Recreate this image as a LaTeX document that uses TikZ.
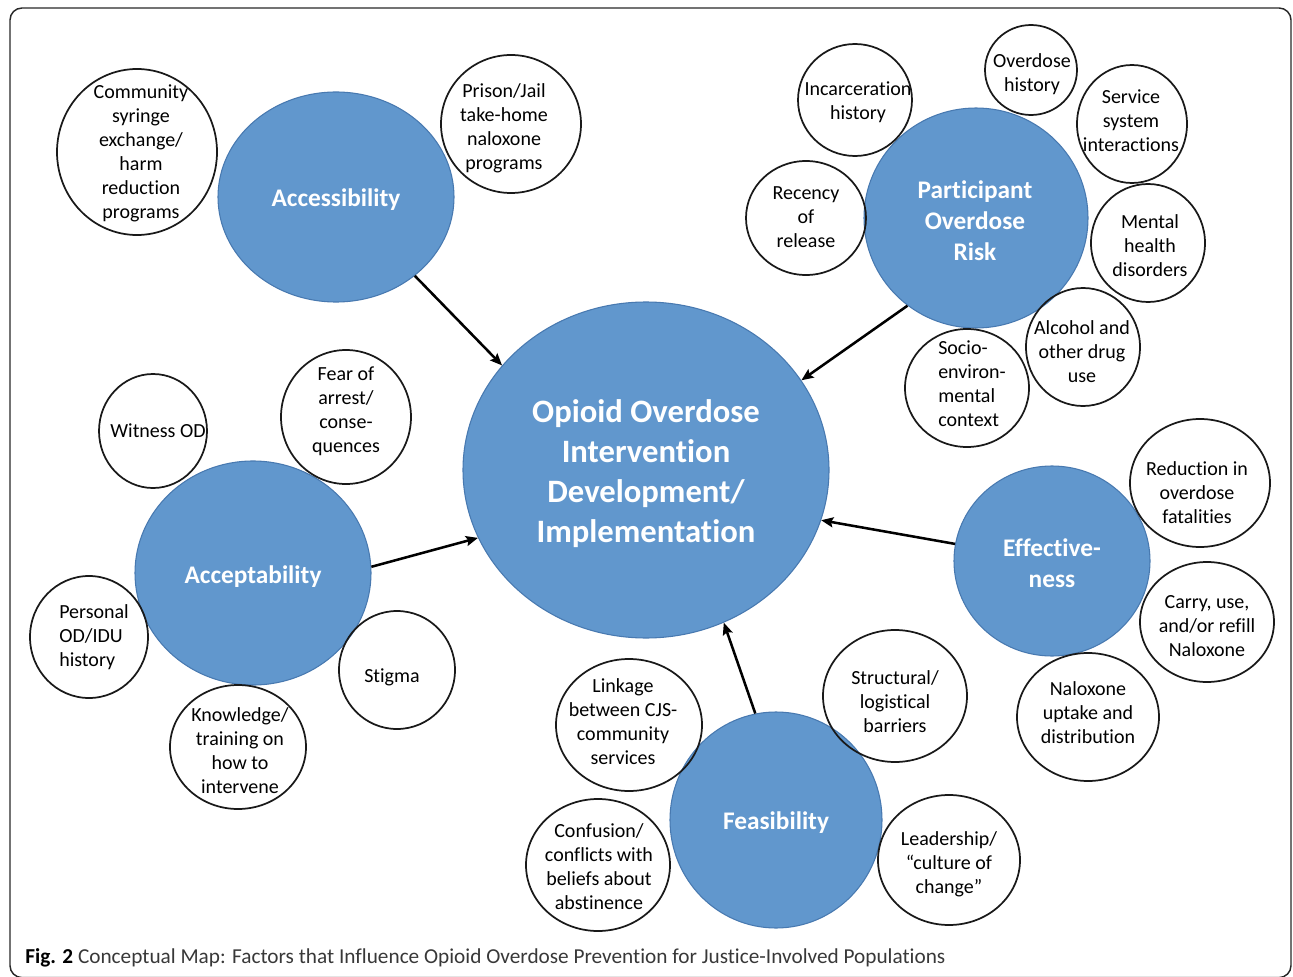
\documentclass[tikz,border=0pt]{standalone}
\usepackage{fontspec}
\setmainfont{Carlito}[Ligatures=CommonOff]
\usetikzlibrary{shapes.geometric,arrows.meta}
\definecolor{bluefill}{RGB}{97,151,205}
\definecolor{blueedge}{RGB}{72,121,176}
\definecolor{framegray}{RGB}{40,40,40}
\tikzset{
  factor/.style n args={2}{ellipse, draw=blueedge, line width=0.8pt, fill=bluefill,
    minimum width=#1*1.5pt, minimum height=#2*1.5pt, inner sep=0pt},
  item/.style n args={2}{ellipse, draw=black!90, line width=1.3pt,
    minimum width=#1*1.5pt, minimum height=#2*1.5pt, inner sep=0pt},
  itemtext/.style={align=center, inner sep=0pt, yshift=-2pt, font=\fontsize{15}{18}\selectfont},
  factortext/.style={align=center, inner sep=0pt, yshift=-2.2pt, text=white, font=\bfseries\fontsize{19}{23.25}\selectfont},
  influence/.style={line width=1.9pt, -{Stealth[length=9pt,width=7.5pt,inset=1.5pt]}},
}
\begin{document}
\begin{tikzpicture}[x=0.75pt,y=-0.75pt]
\useasboundingbox (0,0) rectangle (1293,977);
% outer frame
\draw[framegray, line width=1.1pt, rounded corners=9pt] (10,8) rectangle (1291,977.6);

% main factor bubbles
\node[factor={183}{168}] (core) at (646,470) {};
\node[factor={118}{105}] (access) at (336,197) {};
\node[factor={112}{110}] (risk) at (976,218) {};
\node[factor={118}{112}] (accept) at (253,573) {};
\node[factor={98}{95}] (effect) at (1052,561) {};
\node[factor={106}{108}] (feas) at (776,820) {};

% sub-factor outlines
\node[item={80}{83}] (c1) at (137,152) {};
\node[item={70}{69}] (c2) at (511,124) {};
\node[item={57}{56}] (c3) at (855,100) {};
\node[item={46}{45}] (c4) at (1031,70) {};
\node[item={55}{59}] (c5) at (1132,124) {};
\node[item={60}{57}] (c6) at (806,218) {};
\node[item={57}{59}] (c7) at (1148,243) {};
\node[item={62}{59}] (c8) at (967,388) {};
\node[item={57}{59}] (c9) at (1083,347) {};
\node[item={70}{64}] (c10) at (1200,483) {};
\node[item={67}{60}] (c11) at (1207,622) {};
\node[item={71}{64}] (c12) at (1088,717) {};
\node[item={72}{66}] (c13) at (895,696) {};
\node[item={71}{65}] (c14) at (949,860) {};
\node[item={72}{66}] (c15) at (598,865) {};
\node[item={73}{66}] (c16) at (629,725) {};
\node[item={58}{59}] (c17) at (397,670) {};
\node[item={68}{62}] (c18) at (238,747) {};
\node[item={59}{61}] (c19) at (89,637) {};
\node[item={54}{57}] (c20) at (153,431) {};
\node[item={65}{67}] (c21) at (346,417) {};

% influences on the core
\draw[influence] (access.-45.3) -- (core.144.5);
\draw[influence] (risk.-128.7) -- (core.30.2);
\draw[influence] (effect.170.1) -- (core.-16.2);
\draw[influence] (feas.101.4) -- (core.-63.6);
\draw[influence] (accept.3.5) -- (core.-158.7);

% factor labels
\node[align=center, inner sep=0pt, yshift=-3pt, text=white, font=\bfseries\fontsize{24.5}{30}\selectfont] (tcore) at (646,470)
  {Opioid Overdose\\Intervention\\Development/\\Implementation};
\node[factortext] (taccess) at (336,197) {Accessibility};
\node[factortext] (trisk) at (975,218) {Participant\\Overdose\\Risk};
\node[factortext] (taccept) at (253,574) {Acceptability};
\node[factortext] (teffect) at (1052,560) {Effective-\\ness};
\node[factortext] (tfeas) at (776,820) {Feasibility};

% sub-factor labels
\node[itemtext] (t1) at (141,151) {Community\\syringe\\exchange/\\harm\\reduction\\programs};
\node[itemtext] (t2) at (504,126) {Prison/Jail\\take-home\\naloxone\\programs};
\node[itemtext] (t3) at (858,100) {Incarceration\\history};
\node[itemtext] (t4) at (1032,72) {Overdose\\history};
\node[itemtext] (t5) at (1131,118) {Service\\system\\interactions};
\node[itemtext] (t6) at (806,214) {Recency\\of\\release};
\node[itemtext] (t7) at (1150,243) {Mental\\health\\disorders};
\node[itemtext, align=left, anchor=west] (t8) at (938,381) {Socio-\\environ-\\mental\\context};
\node[itemtext] (t9) at (1082,349) {Alcohol and\\other drug\\use};
\node[itemtext] (t10) at (1197,490) {Reduction in\\overdose\\fatalities};
\node[itemtext] (t11) at (1207,623) {Carry, use,\\and/or refill\\Naloxone};
\node[itemtext] (t12) at (1088,710) {Naloxone\\uptake and\\distribution};
\node[itemtext] (t13) at (895,699) {Structural/\\logistical\\barriers};
\node[itemtext] (t14) at (949,862) {Leadership/\\“culture of\\change”};
\node[itemtext] (t15) at (599,864) {Confusion/\\conflicts with\\beliefs about\\abstinence};
\node[itemtext] (t16) at (623,719) {Linkage\\between CJS-\\community\\services};
\node[itemtext] (t17) at (392,675) {Stigma};
\node[itemtext] (t18) at (240,748) {Knowledge/\\training on\\how to\\intervene};
\node[itemtext, align=left, anchor=west] (t19) at (59,634) {Personal\\OD/IDU\\history};
\node[itemtext] (t20) at (158,428) {Witness OD};
\node[itemtext] (t21) at (346,409) {Fear of\\arrest/\\conse-\\quences};

% caption
\node[anchor=base west, inner sep=0pt, font=\fontsize{15.95}{18}\selectfont, text=black!78] (caption) at (25,963)
  {\textbf{\color{black}Fig. 2} Conceptual Map: Factors that Influence Opioid Overdose Prevention for Justice-Involved Populations};
\end{tikzpicture}
\end{document}
